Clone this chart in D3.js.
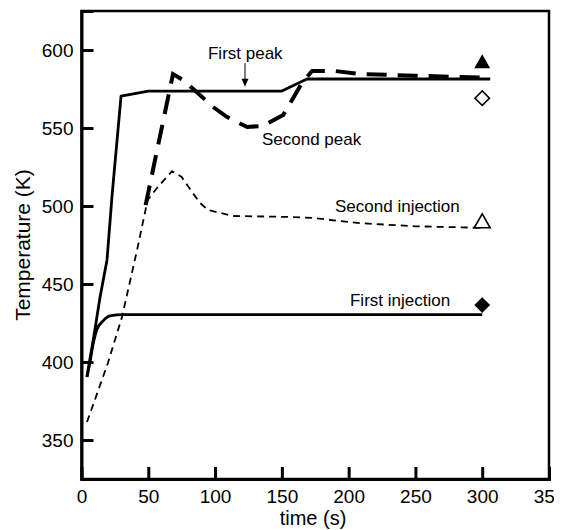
<!DOCTYPE html>
<html>
<head>
<meta charset="utf-8">
<script src="https://cdn.jsdelivr.net/npm/d3@7"></script>
<style>
  html, body { margin: 0; padding: 0; background: #fff; }
  svg { display: block; }
  text { font-family: "Liberation Sans", Arial, sans-serif; fill: #000; }
</style>
</head>
<body>
<svg id="chart" width="569" height="530"></svg>
<script>
// ---- data ----
const xTicks = [0, 50, 100, 150, 200, 250, 300, 350];
const yTicks = [350, 400, 450, 500, 550, 600];

// First peak (solid, upper)
const firstPeakTime = [4, 9.4, 13.9, 19.1, 22.8, 29.6, 50, 150, 168.8, 306];
const firstPeakTemp = [390.4, 417.3, 441.7, 465.4, 505.8, 570.5, 573.7, 573.7, 581.4, 581.4];

// Second peak (long dashed)
const secondPeakTime = [48, 68.5, 76, 87, 98.5, 109, 124, 136, 151, 165, 172.6, 190, 209, 250, 306];
const secondPeakTemp = [500.6, 584.6, 580.8, 572.4, 563.5, 557, 550.6, 551.4, 558.3, 578.8, 586.5, 586.5, 584.6, 583.5, 582.2];

// Second injection (short dashed)
const secondInjTime = [4.1, 19.8, 30.3, 41.6, 49.5, 56.5, 67.8, 75, 82.7, 88.7, 94.7, 113.4, 156, 173.3, 208.5, 250, 300];
const secondInjTemp = [361.5, 399.4, 428.8, 471.8, 503.8, 511.5, 522.4, 518.6, 509, 502, 497.4, 493.6, 493, 492.3, 489, 487, 486];

// First injection (solid, lower)
const firstInjTime = [4.1, 6.4, 8.6, 11.6, 16.1, 21.3, 31, 300];
const firstInjTemp = [390.4, 400, 411, 421, 426.3, 429.5, 430.4, 430.4];

// Experimental points at t = 300 s
const markerNames = ["second peak", "first peak", "second injection", "first injection"];
const markerTime = [300, 300, 300, 300];
const markerTemp = [591.3, 569.1, 489.0, 436.5];
const markerShape = ["triangle", "diamond", "triangle", "diamond"];
const markerFilled = [true, false, false, true];

// Annotations
const labelText = ["First peak", "Second peak", "Second injection", "First injection"];
const labelTime = [94.7, 135.1, 189.8, 201];
const labelTemp = [594.2, 539.1, 496.2, 436.1];

// ---- chart ----
const svg = d3.select("#chart");
const mLeft = 81.5, mRight = 549, mTop = 11, mBottom = 479;

const x = d3.scaleLinear().domain([0, 350]).range([mLeft, mRight]);
const y = d3.scaleLinear().domain([325, 625]).range([mBottom, mTop]);

const zip = (a, b) => a.map((v, i) => [v, b[i]]);
const lineLinear = d3.line().x(d => x(d[0])).y(d => y(d[1]));
const lineSmooth = d3.line().x(d => x(d[0])).y(d => y(d[1])).curve(d3.curveMonotoneX);

// clip: the original figure is cropped just right of the plot frame
svg.append("defs").append("clipPath").attr("id", "figclip")
  .append("rect").attr("x", 0).attr("y", 0).attr("width", 554).attr("height", 530);

// frame
svg.append("rect")
  .attr("x", mLeft).attr("y", mTop)
  .attr("width", mRight - mLeft).attr("height", mBottom - mTop)
  .attr("fill", "none").attr("stroke", "#000").attr("stroke-width", 2.5);

// axes (ticks inward)
const xAxis = d3.axisBottom(x).tickValues(xTicks).tickSize(-12).tickPadding(16).tickFormat(d3.format("d"));
const yAxis = d3.axisLeft(y).tickValues(yTicks).tickSize(-12).tickPadding(20).tickFormat(d3.format("d"));

const gx = svg.append("g").attr("clip-path", "url(#figclip)")
  .append("g").attr("transform", `translate(0,${mBottom})`).call(xAxis);
const gy = svg.append("g").attr("transform", `translate(${mLeft},0)`).call(yAxis);

[gx, gy].forEach(g => {
  g.select(".domain").attr("stroke", "#000").attr("stroke-width", 3);
  g.selectAll(".tick line").attr("stroke", "#000").attr("stroke-width", 3);
  g.selectAll(".tick text").attr("font-size", 19).attr("font-family", "Liberation Sans, Arial, sans-serif").attr("fill", "#000");
});
gx.selectAll(".tick").filter(d => d === 0 || d === 350).select("line").remove();
gx.selectAll(".tick text").attr("dy", 0).attr("y", 24);
gy.selectAll(".tick text").attr("x", -8).attr("dy", "0.36em");

// axis titles
svg.append("text")
  .attr("x", 313).attr("y", 525)
  .attr("text-anchor", "middle").attr("font-size", 20)
  .text("time (s)");
svg.append("text")
  .attr("transform", "translate(29.5,245) rotate(-90)")
  .attr("text-anchor", "middle").attr("font-size", 21)
  .text("Temperature (K)");

// curves
svg.append("path").datum(zip(firstInjTime, firstInjTemp))
  .attr("d", lineSmooth).attr("fill", "none").attr("stroke", "#000").attr("stroke-width", 2.8);

svg.append("path").datum(zip(firstPeakTime, firstPeakTemp))
  .attr("d", lineLinear).attr("fill", "none").attr("stroke", "#000").attr("stroke-width", 2.8)
  .attr("stroke-linejoin", "round");

svg.append("path").datum(zip(secondInjTime, secondInjTemp))
  .attr("d", lineLinear).attr("fill", "none").attr("stroke", "#000").attr("stroke-width", 1.8)
  .attr("stroke-dasharray", "7,5");

svg.append("path").datum(zip(secondPeakTime, secondPeakTemp))
  .attr("d", lineLinear).attr("fill", "none").attr("stroke", "#000").attr("stroke-width", 4)
  .attr("stroke-dasharray", "20,11");

// markers
const markerData = markerTime.map((t, i) => ({ t, T: markerTemp[i], shape: markerShape[i], filled: markerFilled[i] }));
svg.selectAll("path.marker").data(markerData).enter().append("path")
  .attr("class", "marker")
  .attr("d", d => d.shape === "triangle"
    ? d3.symbol().type(d3.symbolTriangle).size(110)()
    : d3.symbol().type(d3.symbolSquare).size(d.filled ? 125 : 105)())
  .attr("transform", d => `translate(${x(d.t)},${y(d.T)})` + (d.shape === "diamond" ? " rotate(45)" : ""))
  .attr("fill", d => d.filled ? "#000" : "#fff")
  .attr("stroke", "#000").attr("stroke-width", d => d.filled ? 0 : 1.6);

// annotations
labelText.forEach((s, i) => {
  svg.append("text")
    .attr("x", x(labelTime[i])).attr("y", y(labelTemp[i]))
    .attr("font-size", 17).text(s);
});

// arrow for "First peak"
const arrowT = 122.4;
svg.append("line")
  .attr("x1", x(arrowT)).attr("x2", x(arrowT))
  .attr("y1", y(591.7)).attr("y2", y(579.5))
  .attr("stroke", "#000").attr("stroke-width", 1);
svg.append("path")
  .attr("d", `M${x(arrowT) - 3.5},${y(581.5)} L${x(arrowT) + 3.5},${y(581.5)} L${x(arrowT)},${y(576.5)} Z`)
  .attr("fill", "#000");
</script>
</body>
</html>
